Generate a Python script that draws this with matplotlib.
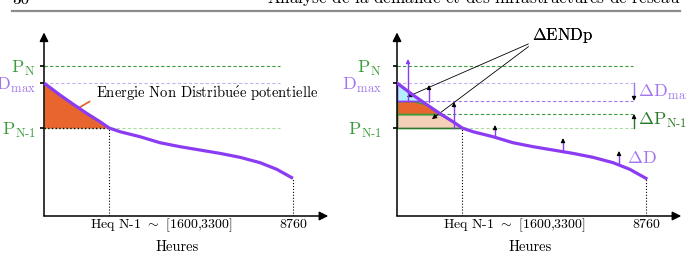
import numpy as np
import matplotlib
matplotlib.use("Agg")
import matplotlib.pyplot as plt
from matplotlib.lines import Line2D

plt.rcParams["font.family"] = ["cmr10", "DejaVu Serif"]
plt.rcParams["mathtext.fontset"] = "cm"
plt.rcParams["axes.formatter.use_mathtext"] = True

# load-duration curve (hours, % of Dmax)
HOURS = [0, 560, 1030, 1500, 1970, 2290, 2670, 3380, 4080, 4790, 5490, 6190, 6900, 7600, 8190, 8760]
LOAD = [100, 91.0, 84.0, 77.2, 70.9, 66.2, 63.4, 59.6, 55.1, 52.1, 49.6, 47.1, 44.1, 40.1, 35.1, 28.3]

P_N = 112.8
D_MAX = 100.0
P_N1 = 66.2
D_MAX2 = 86.5      # Dmax - delta Dmax
P_N1B = 76.7       # P_N-1 + delta P_N-1
HEQ = 2290
H_END = 8760
LINE_END = 8300

# small vertical arrows in the right panel (hour, from, to)
ARROW_H = [387, 1126, 2005, 3448, 5840, 7810]
ARROW_FROM = [86.5, 85.7, 66.2, 59.4, 48.1, 39.8]
ARROW_TO = [118.0, 98.5, 85.7, 68.4, 58.6, 48.9]

X_LABELS = ["Heq N-1 $\\sim$ [1600,3300]", "8760"]
Y_LABELS = [r"$\mathrm{P}_\mathrm{N}$", r"$\mathrm{D}_\mathrm{max}$", r"$\mathrm{P}_{\mathrm{N}\text{-}\mathrm{1}}$"]
E_ACUTE = r"$\acute{\mathrm{e}}$"

PURPLE = "#8b3cf2"
LPURPLE = "#c8b0f4"
MPURPLE = "#a276ee"
GREEN = "#3c9c3c"
LGREEN = "#a8dca0"
DGREEN = "#2b7a2b"
ORANGE = "#e8652d"
SALMON = "#f6cfb9"
LBLUE = "#b4efff"

W, H = 686, 257
PX_PER_H = 249 / 8760
PX_PER_U = 1.33
XMAX, YMAX = 10000, 138


def make_axes(fig, left_px, pad):
    ax = fig.add_axes([left_px / W, (H - 216) / H, XMAX * PX_PER_H / W, YMAX * PX_PER_U / H])
    ax.set_xlim(0, XMAX)
    ax.set_ylim(0, YMAX)
    for s in ax.spines.values():
        s.set_visible(False)
    ax.patch.set_alpha(0)
    ax.annotate("", xy=(1, 0), xytext=(0, 0), xycoords="axes fraction",
                arrowprops=dict(arrowstyle="-|>", color="black", lw=1.1, mutation_scale=13, shrinkA=0, shrinkB=0))
    ax.annotate("", xy=(0, 1), xytext=(0, 0), xycoords="axes fraction",
                arrowprops=dict(arrowstyle="-|>", color="black", lw=1.1, mutation_scale=13, shrinkA=0, shrinkB=0))
    ax.set_xticks([])
    ax.set_yticks([P_N, D_MAX, P_N1])
    ax.set_yticklabels(Y_LABELS, fontsize=13)
    for lab, c in zip(ax.get_yticklabels(), [GREEN, MPURPLE, GREEN]):
        lab.set_color(c)
    ax.tick_params(axis="y", length=3, width=1.2, pad=pad)

    ax.text(1620, -6.8, X_LABELS[0], fontsize=10, ha="left", va="center")
    ax.text(H_END, -6.8, X_LABELS[1], fontsize=10, ha="center", va="center")
    ax.text(4700, -23.3, "Heures", fontsize=10.5, ha="center", va="center")

    ax.plot([0, LINE_END], [P_N, P_N], ls=(0, (3, 2)), color=GREEN, lw=0.8)
    ax.plot([0, LINE_END], [D_MAX, D_MAX], ls=(0, (3, 2)), color=LPURPLE, lw=0.8)
    ax.plot([0, LINE_END], [P_N1, P_N1], ls=(0, (3, 2)), color=LGREEN, lw=0.8)
    ax.plot([HEQ, HEQ], [0, P_N1], ls=":", color="black", lw=0.8)
    ax.plot([H_END, H_END], [0, LOAD[-1]], ls=":", color="black", lw=0.8)
    return ax


fig = plt.figure(figsize=(W / 100, H / 100), dpi=100)

hours = np.array(HOURS, dtype=float)
load = np.array(LOAD, dtype=float)

# ---- left panel
ax1 = make_axes(fig, 44, 3)
ax1.fill_between(hours, P_N1, load, where=load >= P_N1, interpolate=True, color=ORANGE, lw=0, zorder=2)
ax1.plot([0, HEQ], [P_N1, P_N1], ls=":", color="black", lw=1.0, zorder=3)
ax1.plot(hours, load, color=PURPLE, lw=2.3, zorder=4, solid_capstyle="butt")
ax1.annotate("Energie Non Distribu" + E_ACUTE + "e potentielle", xy=(1200, 81), xytext=(1830, 92.5),
             fontsize=10.5, va="center", ha="left",
             arrowprops=dict(arrowstyle="-", color=ORANGE, lw=1.3, relpos=(0, 0.25), shrinkA=3, shrinkB=0))

# ---- right panel
ax2 = make_axes(fig, 397, 8)
ax2.plot([0, LINE_END], [D_MAX2, D_MAX2], ls=(0, (3, 2)), color=MPURPLE, lw=0.8)
ax2.plot([0, LINE_END], [P_N1B, P_N1B], ls=(0, (3, 2)), color=GREEN, lw=0.8)
ax2.fill_between(hours, P_N1, np.minimum(load, P_N1B), where=load >= P_N1, interpolate=True,
                 facecolor=SALMON, edgecolor=DGREEN, lw=1.2, zorder=2)
ax2.fill_between(hours, P_N1B, np.minimum(load, D_MAX2), where=load >= P_N1B, interpolate=True,
                 facecolor=ORANGE, edgecolor=GREEN, lw=1.2, zorder=2.1)
ax2.fill_between(hours, D_MAX2, load, where=load >= D_MAX2, interpolate=True,
                 facecolor=LBLUE, edgecolor=PURPLE, lw=1.2, zorder=2.2)
ax2.plot(hours, load, color=PURPLE, lw=2.3, zorder=4)

for i, (h, y0, y1) in enumerate(zip(ARROW_H, ARROW_FROM, ARROW_TO)):
    head = PURPLE if i == 0 else "black"
    ax2.plot([h, h], [y0, y1 - 2], color=PURPLE, lw=1.0, zorder=5)
    ax2.annotate("", xy=(h, y1), xytext=(h, y1 - 3),
                 arrowprops=dict(arrowstyle="-|>", color=head, lw=0.8, mutation_scale=6, shrinkA=0, shrinkB=0),
                 zorder=6)

ax2.plot([8338, 8338], [D_MAX, D_MAX2 + 2], color=MPURPLE, lw=1.0)
ax2.annotate("", xy=(8338, D_MAX2), xytext=(8338, D_MAX2 + 3),
             arrowprops=dict(arrowstyle="-|>", color="black", lw=0.8, mutation_scale=6, shrinkA=0, shrinkB=0))
ax2.plot([8338, 8338], [P_N1, P_N1B - 2], color=DGREEN, lw=1.0)
ax2.annotate("", xy=(8338, P_N1B), xytext=(8338, P_N1B - 3),
             arrowprops=dict(arrowstyle="-|>", color="black", lw=0.8, mutation_scale=6, shrinkA=0, shrinkB=0))

ax2.text(8480, 93.2, r"$\Delta\mathrm{D}_\mathrm{max}$", fontsize=13, color=MPURPLE, va="center", ha="left")
ax2.text(8480, 72.2, r"$\Delta\mathrm{P}_{\mathrm{N}\text{-}\mathrm{1}}$", fontsize=13, color=DGREEN, va="center", ha="left")
ax2.text(8090, 43.6, r"$\Delta\mathrm{D}$", fontsize=13, color=MPURPLE, va="center", ha="left")

for tgt, rp in [((352, 89.5), (0.05, 0.2)), ((1231, 72.9), (0.0, 0.05))]:
    ax2.annotate(r"$\Delta\mathrm{ENDp}$", xy=tgt, xytext=(5840, 136), fontsize=12,
                 ha="center", va="center",
                 arrowprops=dict(arrowstyle="-|>", color="black", lw=0.6, mutation_scale=7,
                                 relpos=rp, shrinkA=1, shrinkB=0))

# ---- page header
fig.add_artist(Line2D([12 / W, 680 / W], [(H - 11) / H, (H - 11) / H], color="#8c8c8c", lw=1.6))
fig.text(12 / W, (H - 4) / H, "30", fontsize=12.3, fontweight="bold", ha="left", va="baseline")
fig.text(680 / W, (H - 4) / H, "Analyse de la demande et des infrastructures de r" + E_ACUTE + "seau",
         fontsize=12.3, ha="right", va="baseline")

fig.savefig("out.png", dpi=100)
